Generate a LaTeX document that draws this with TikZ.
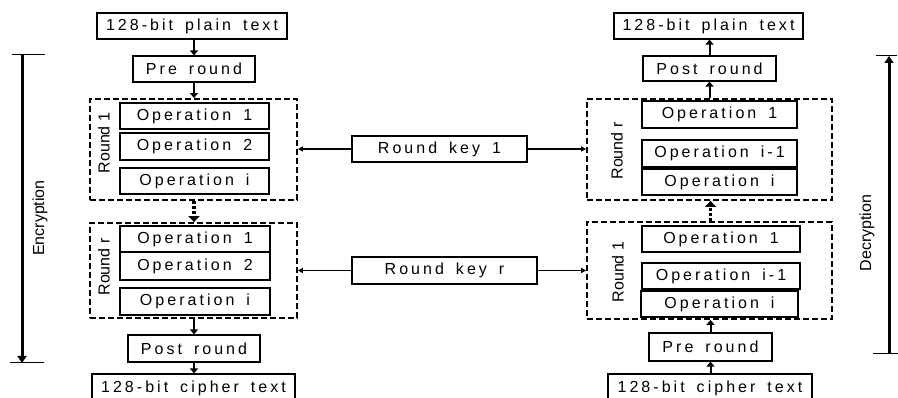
\documentclass[tikz,border=0pt]{standalone}
\usepackage{fontspec}
\setmainfont{Liberation Sans}
\newfontfamily\trackfont[LetterSpace=19,WordSpace=1.6]{Liberation Sans}
\usetikzlibrary{arrows.meta}
\begin{document}
\begin{tikzpicture}[x=1pt,y=-1pt,
  stagebox/.style={draw, line width=1.2pt, inner sep=0pt,
    font={\trackfont\fontsize{16pt}{19pt}\selectfont}},
  roundbox/.style={draw, line width=1.8pt, dash pattern=on 6pt off 3pt, inner sep=0pt},
  roundlabel/.style={rotate=90, inner sep=0pt, font={\fontsize{16pt}{19pt}\selectfont}},
  flow/.style={line width=2pt, -{Triangle[length=5pt,width=8pt]}},
  skip/.style={line width=3.2pt, dash pattern=on 3pt off 2pt, -{Triangle[length=6pt,width=11pt]}},
  keyarrow/.style={line width=1.2pt, -{Triangle[length=5pt,width=5pt]}},
  bar/.style={line width=3pt, -{Triangle[length=7pt,width=9pt]}},
  barcap/.style={line width=1pt},
  sidelabel/.style={rotate=90, inner sep=0pt, font={\fontsize{16pt}{19pt}\selectfont}}]
\useasboundingbox (0,0) rectangle (898,398);

% ---------- encryption column ----------
\node[stagebox, minimum width=190pt, minimum height=26pt] (eplain) at (192,26) {128-bit plain text};
\node[stagebox, minimum width=122pt, minimum height=26pt] (epre) at (194,69) {Pre round};
\node[roundbox, minimum width=207pt, minimum height=101pt] (eR1) at (193.5,149.5) {};
\node[stagebox, minimum width=149pt, minimum height=26pt] (eO11) at (194.5,116) {Operation 1};
\node[stagebox, minimum width=149pt, minimum height=27pt] (eO12) at (194.5,146.5) {Operation 2};
\node[stagebox, minimum width=149pt, minimum height=26pt] (eO1i) at (194.5,181) {Operation i};
\node[roundlabel] (eR1lab) at (104,143) {Round 1};
\node[roundbox, minimum width=207pt, minimum height=95pt] (eRr) at (193.5,270.5) {};
\node[stagebox, minimum width=150pt, minimum height=26pt] (eOr1) at (195,239) {Operation 1};
\node[stagebox, minimum width=150pt, minimum height=28pt] (eOr2) at (195,266) {Operation 2};
\node[stagebox, minimum width=150pt, minimum height=27pt] (eOri) at (195,301.5) {Operation i};
\node[roundlabel] (eRrlab) at (104,267) {Round r};
\node[stagebox, minimum width=132pt, minimum height=27pt] (epost) at (194,348.5) {Post round};
\node[stagebox, minimum width=203pt, minimum height=28pt] (ecipher) at (193.5,388) {128-bit cipher text};

\draw[flow] (epre.north |- eplain.south) -- (epre.north);
\draw[flow] (epre.south) -- (epre.south |- eR1.north);
\draw[skip] (epre.south |- eR1.south) -- (epre.south |- eRr.north);
\draw[flow] (epost.north |- eRr.south) -- (epost.north);
\draw[flow] (epost.south) -- (epost.south |- ecipher.north);

% ---------- round keys ----------
\node[stagebox, minimum width=175pt, minimum height=26pt] (key1) at (439.5,149) {Round key 1};
\node[stagebox, minimum width=185pt, minimum height=27pt] (keyr) at (444.5,270.5) {Round key r};

% ---------- decryption column ----------
\node[stagebox, minimum width=189pt, minimum height=26pt] (dplain) at (708.5,26) {128-bit plain text};
\node[stagebox, minimum width=133pt, minimum height=25pt] (dpost) at (709.5,68.5) {Post round};
\node[roundbox, minimum width=245pt, minimum height=101pt] (dRr) at (709.5,149.5) {};
\node[stagebox, minimum width=155pt, minimum height=27pt] (dOr1) at (719.5,114.5) {Operation 1};
\node[stagebox, minimum width=155pt, minimum height=27pt] (dOr2) at (719.5,153.5) {Operation i-1};
\node[stagebox, minimum width=155pt, minimum height=26pt] (dOri) at (719.5,182) {Operation i};
\node[roundlabel] (dRrlab) at (617,151) {Round r};
\node[roundbox, minimum width=245pt, minimum height=97pt] (dR1) at (709.5,270.5) {};
\node[stagebox, minimum width=158pt, minimum height=26pt] (dO11) at (721,239) {Operation 1};
\node[stagebox, minimum width=158pt, minimum height=26pt] (dO12) at (721,276) {Operation i-1};
\node[stagebox, minimum width=157pt, minimum height=26pt] (dO1i) at (719.5,304) {Operation i};
\node[roundlabel] (dR1lab) at (618,272) {Round 1};
\node[stagebox, minimum width=123pt, minimum height=28pt] (dpre) at (710.5,347) {Pre round};
\node[stagebox, minimum width=204pt, minimum height=28pt] (dcipher) at (710,388) {128-bit cipher text};

\draw[flow] (dpre.south |- dcipher.north) -- (dpre.south);
\draw[flow] (dpre.north) -- (dpre.north |- dR1.south);
\draw[skip] (dpre.north |- dR1.north) -- (dpre.north |- dRr.south);
\draw[flow] (dpost.south |- dRr.north) -- (dpost.south);
\draw[flow] (dpost.north) -- (dpost.north |- dplain.south);

% ---------- key connectors ----------
\draw[keyarrow] (key1.west) -- (key1.west -| eR1.east);
\draw[keyarrow] (key1.east) -- (key1.east -| dRr.west);
\draw[keyarrow] (keyr.west) -- (keyr.west -| eRr.east);
\draw[keyarrow] (keyr.east) -- (keyr.east -| dR1.west);

% ---------- direction bars ----------
\coordinate (encTop) at (22,55);
\coordinate (encBot) at (22,363);
\draw[barcap] (12,55) -- (45,55);
\draw[barcap] (10,363) -- (44,363);
\draw[bar] (encTop) -- (encBot);
\node[sidelabel] (enclab) at (40,218) {Encryption};

\coordinate (decBot) at (889,354);
\coordinate (decTop) at (889,56);
\draw[barcap] (876,56) -- (897,56);
\draw[barcap] (873,354) -- (898,354);
\draw[bar] (decBot) -- (decTop);
\node[sidelabel] (declab) at (867,233) {Decryption};
\end{tikzpicture}
\end{document}
